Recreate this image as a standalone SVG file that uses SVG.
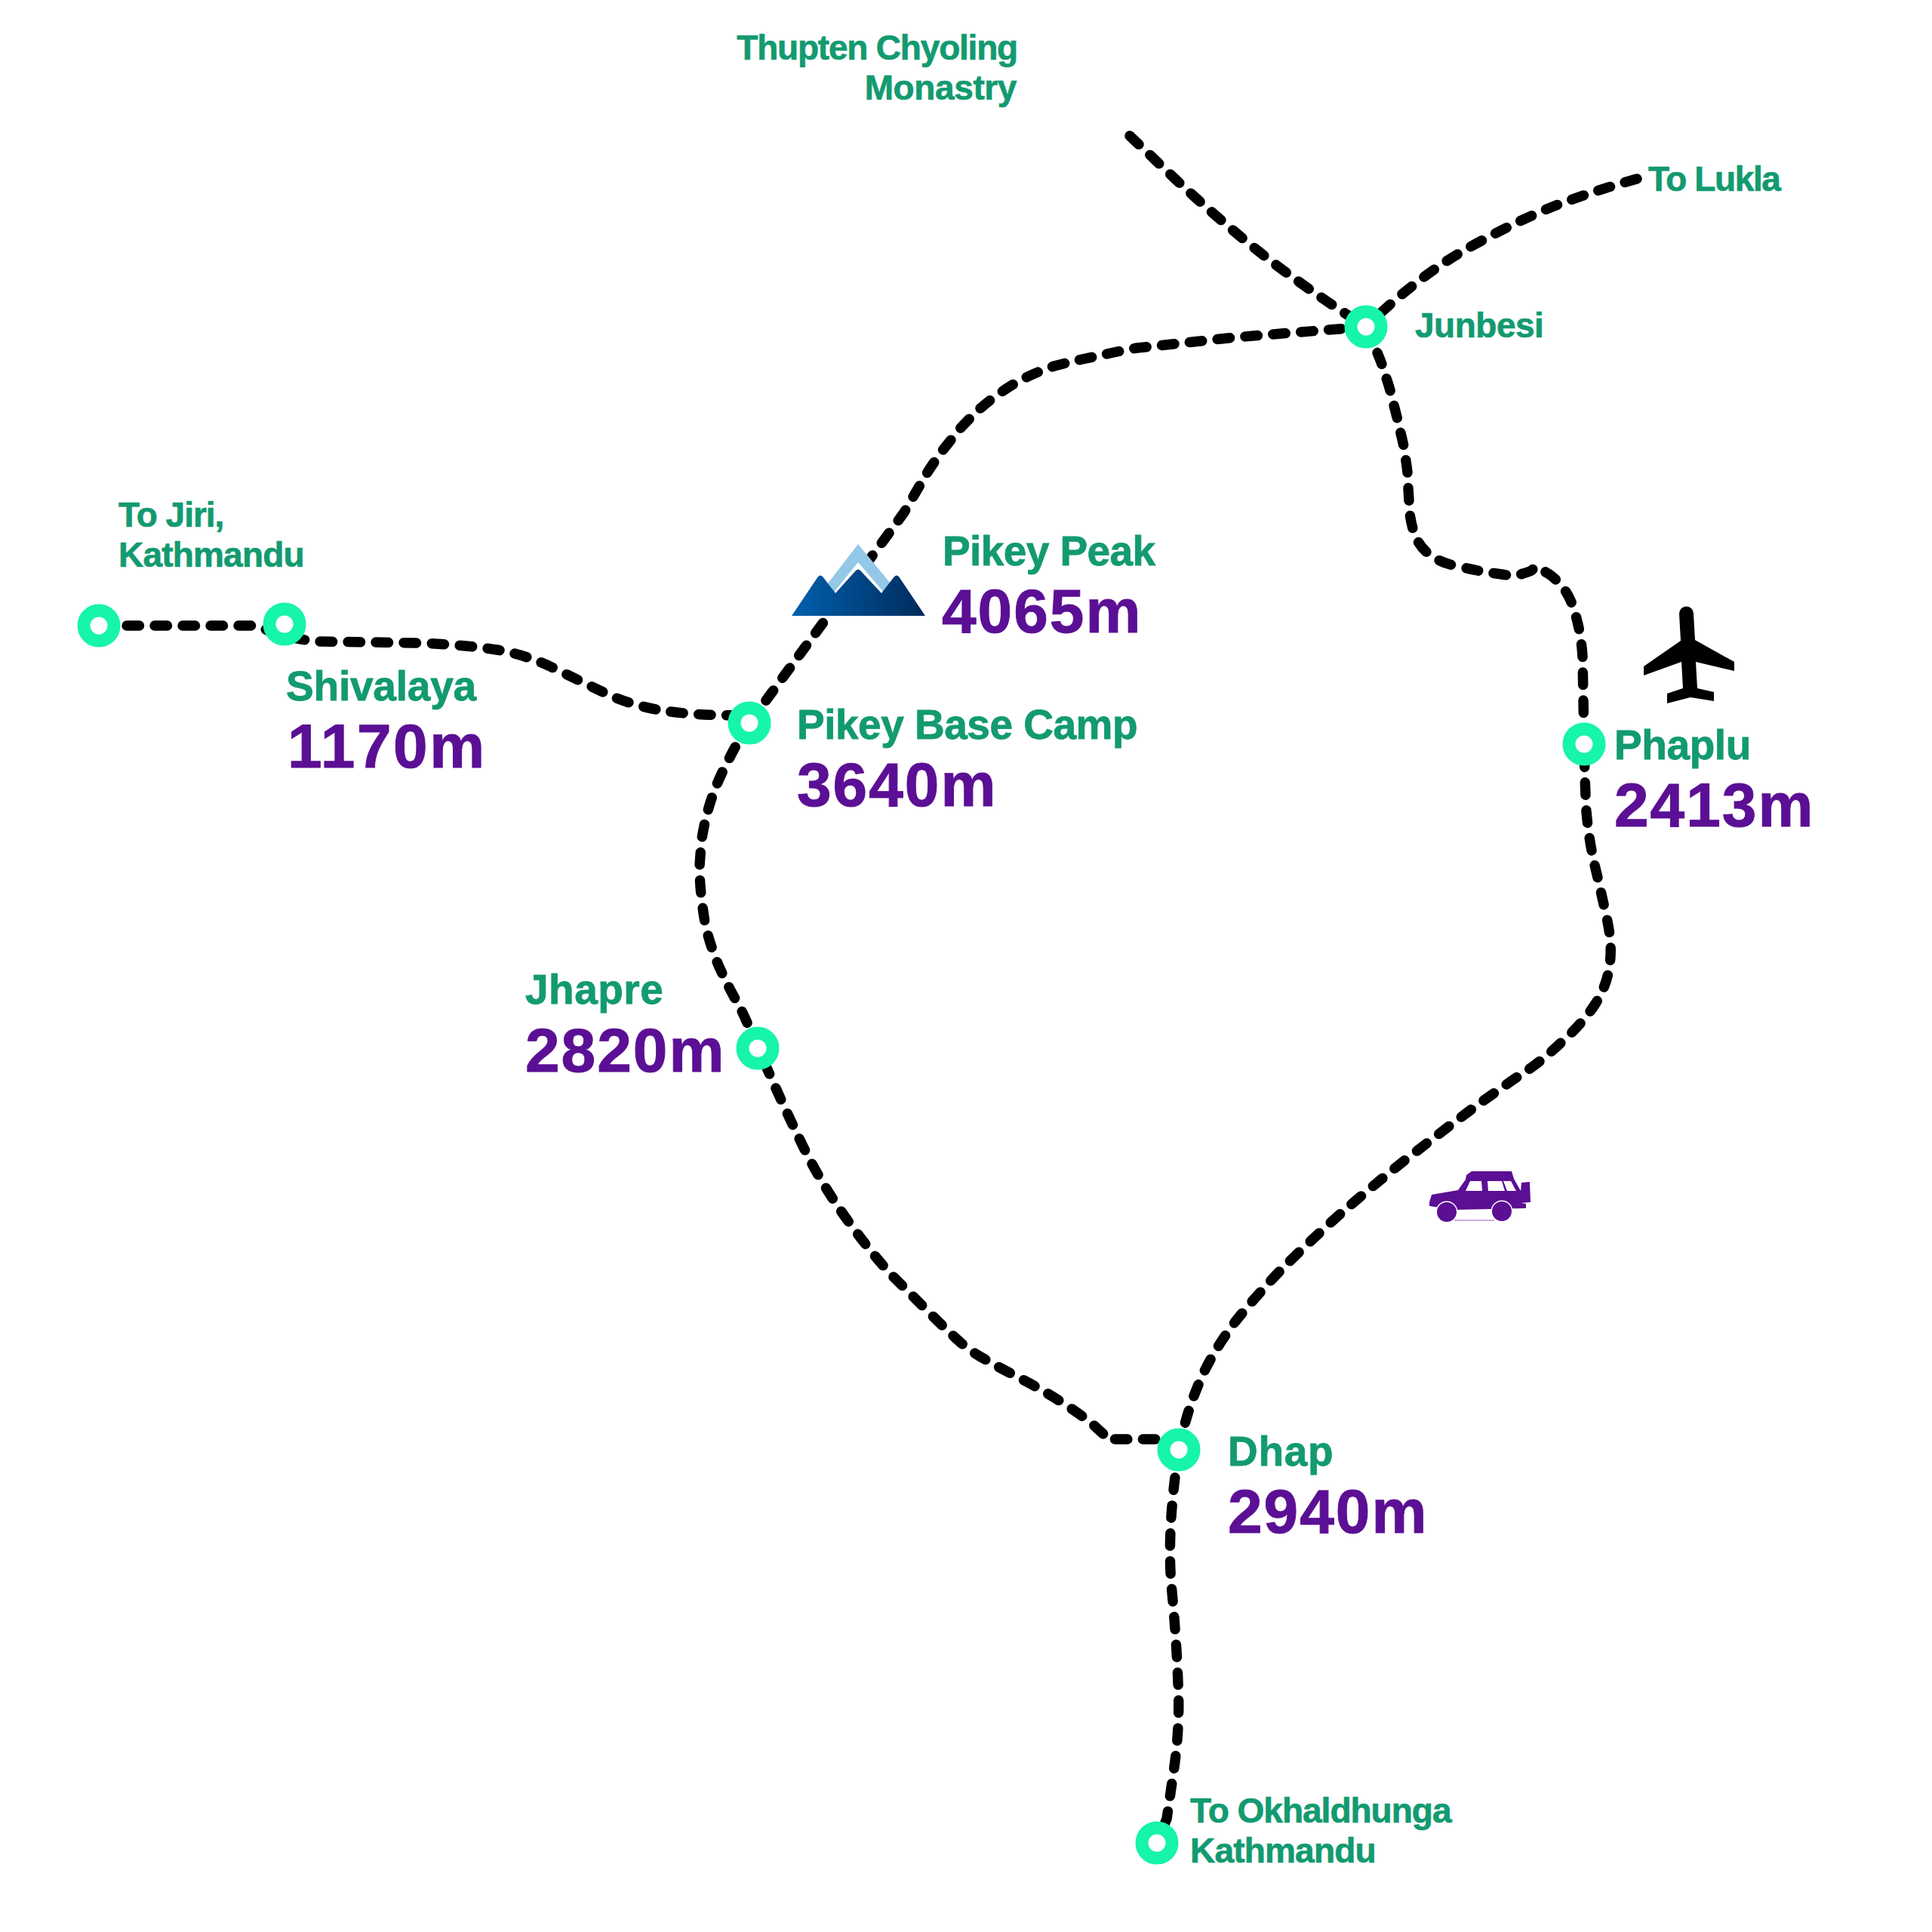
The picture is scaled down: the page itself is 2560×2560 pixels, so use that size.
<svg xmlns="http://www.w3.org/2000/svg" width="2560" height="2560" viewBox="0 0 2560 2560">
<style>
.bg{fill:#fff}
.r{fill:none;stroke:#000;stroke-width:13.5;stroke-linecap:round;stroke-linejoin:round;stroke-dasharray:16.5 20.5}
.n{fill:#fff;stroke:#16f5a9;stroke-width:17}
text{font-family:"Liberation Sans",Arial,sans-serif;font-weight:700}
.g{fill:#139a70;stroke:#139a70;stroke-width:.8;font-size:55px;letter-spacing:-.6px}
.s{fill:#139a70;stroke:#139a70;stroke-width:.7;font-size:46px;letter-spacing:-1px}
.p{fill:#5b0f94;stroke:#5b0f94;stroke-width:1;font-size:82px;letter-spacing:2px}
</style>
<defs>
<linearGradient id="mtn" x1="0" y1="0" x2="1" y2="0"><stop offset="0" stop-color="#0060ad"/><stop offset="1" stop-color="#002b5c"/></linearGradient>
</defs>
<rect class="bg" width="2560" height="2560"/>
<g id="connectors">
<path class="r" d="M131 829L330 829Q345 829 360 838Q385 846 420 850L560 852Q621 855 658 861Q695 867 731 884Q768 902 801 918Q834 934 875 941Q916 948 983 948"/>
<path class="r" d="M993 958L1198 679Q1217 646 1227 629Q1237 613 1248 598Q1260 583 1272 568Q1285 554 1299 541Q1313 529 1329 518Q1345 507 1362 499Q1379 491 1397 485Q1416 480 1434 476Q1453 472 1471 468Q1489 464 1507 461L1636 447L1810 433"/>
<path class="r" d="M993 958L973 992Q957 1022 950 1039Q943 1056 938 1074Q933 1092 930 1111Q928 1130 927 1148Q927 1167 929 1185Q931 1204 934 1222Q938 1241 944 1258Q950 1276 958 1292Q966 1309 975 1325Q985 1342 994 1365Q1004 1388 1024 1433Q1044 1478 1068 1527Q1093 1576 1126 1621Q1159 1666 1183 1691Q1208 1716 1233 1741Q1259 1767 1273 1779Q1288 1792 1305 1801Q1322 1811 1353 1827Q1384 1843 1413 1862Q1443 1882 1453 1892L1464 1902L1465 1907L1562 1907"/>
<path class="r" d="M1562 1921L1569 1891Q1576 1862 1592 1825Q1609 1788 1637 1751Q1666 1715 1698 1682Q1731 1649 1772 1612Q1813 1576 1862 1537Q1911 1499 1947 1472Q1984 1445 2012 1426Q2041 1408 2069 1381Q2098 1355 2114 1330Q2130 1305 2133 1277Q2137 1250 2128 1212Q2120 1175 2112 1142Q2105 1110 2102 1075Q2100 1040 2099 986"/>
<path class="r" d="M1810 433L1821 458Q1832 483 1837 501Q1843 519 1847 537Q1852 556 1856 574Q1861 593 1863 611Q1866 630 1866 647Q1867 664 1868 680Q1870 697 1876 712Q1883 727 1896 736Q1910 746 1926 749Q1943 753 1958 756Q1974 759 1990 761Q2006 764 2018 760Q2030 757 2032 753Q2035 750 2039 752Q2043 755 2053 761Q2063 768 2072 780Q2082 793 2088 816Q2095 840 2097 870L2099 986"/>
<path class="r" d="M1497 180L1556 236Q1617 293 1674 338Q1731 383 1810 433"/>
<path class="r" d="M2169 237Q2115 252 2062 272Q2009 293 1943 330Q1878 367 1810 433"/>
<path class="r" d="M1562 1921Q1546 2025 1552 2099Q1559 2173 1561 2230Q1564 2287 1555 2348L1546 2410L1533 2442"/>
</g>
<g id="icon-mountain">
<polygon fill="#93c8e8" points="1137,721 1097,773 1104,790 1168,790 1180,773"/>
<polygon fill="#fff" points="1137,745 1104,786 1110,792 1137,755 1165,792 1172,786"/>
<path fill="url(#mtn)" d="M1049 816L1084 764Q1087 761 1090 764L1107 786L1134 756Q1137 753 1140 756L1168 786L1185 764Q1188 761 1191 764L1226 816Z"/>
</g>
<g id="icon-plane">
<path d="M2225 813A9.5 9.5 0 0 1 2244 813L2246 848L2298 877L2298 889L2247 877L2249 912L2271 917L2271 929L2240 924L2209 932L2209 919L2230 912L2228 877L2178 895L2178 883L2227 849Z"/>
</g>
<g id="icon-car">
<path fill="#5b0f94" d="M1894 1593L1897 1583L1932 1577L1942 1563L1943 1557L1950 1552L2003 1552L2006 1562L2015 1578L2016 1567L2027 1566L2028 1593L2015 1594L2022 1595L2022 1601L1930 1603L1900 1599L1894 1598Z"/>
<polygon fill="#fff" points="1942,1578 1948,1565 1963,1565 1964,1578"/>
<polygon fill="#fff" points="1972,1578 1971,1565 1990,1565 1994,1578"/>
<polygon fill="#fff" points="1992,1565 2002,1565 2009,1578 1997,1578"/>
<circle cx="1917" cy="1606" r="14.5" fill="#fff"/>
<circle cx="1990" cy="1605" r="14.5" fill="#fff"/>
<circle cx="1917" cy="1606" r="13" fill="#5b0f94"/>
<circle cx="1990" cy="1605" r="13" fill="#5b0f94"/>
<path d="M1927 1617L1980 1617" stroke="#5b0f94" stroke-opacity=".45" stroke-width="1.5"/>
</g>
<g id="node-start"><circle class="n" cx="131" cy="829" r="20"/><text class="s" x="157" y="698">To Jiri,</text><text class="s" x="157" y="751" style="letter-spacing:-.8px">Kathmandu</text></g>
<g id="node-shivalaya"><circle class="n" cx="377" cy="827" r="20"/><text class="g" x="379" y="928" style="letter-spacing:-.2px">Shivalaya</text><text class="p" x="381" y="1017" style="letter-spacing:2.6px">1170m</text></g>
<g id="node-pikey-base"><circle class="n" cx="993" cy="958" r="20"/><text class="g" x="1056" y="979" style="letter-spacing:-.5px">Pikey Base Camp</text><text class="p" x="1056" y="1068">3640m</text></g>
<g id="node-pikey-peak"><text class="g" x="1249" y="749">Pikey Peak</text><text class="p" x="1248" y="838">4065m</text></g>
<g id="node-jhapre"><circle class="n" cx="1004" cy="1389" r="20"/><text class="g" x="696" y="1330" style="letter-spacing:.5px">Jhapre</text><text class="p" x="696" y="1420">2820m</text></g>
<g id="node-dhap"><circle class="n" cx="1562" cy="1921" r="20"/><text class="g" x="1627" y="1942" style="letter-spacing:.7px">Dhap</text><text class="p" x="1627" y="2031">2940m</text></g>
<g id="node-end"><circle class="n" cx="1533" cy="2442" r="20"/><text class="s" x="1577" y="2415">To Okhaldhunga</text><text class="s" x="1577" y="2468" style="letter-spacing:-.8px">Kathmandu</text></g>
<g id="node-phaplu"><circle class="n" cx="2099" cy="986" r="20"/><text class="g" x="2139" y="1006" style="letter-spacing:-.4px">Phaplu</text><text class="p" x="2139" y="1095">2413m</text></g>
<g id="node-junbesi"><circle class="n" cx="1810" cy="433" r="20"/><text class="s" x="1875" y="447" style="letter-spacing:-.5px">Junbesi</text></g>
<g id="label-monastry"><text class="s" x="1348" y="79" text-anchor="end" style="letter-spacing:-1.2px">Thupten Chyoling</text><text class="s" x="1347" y="132" text-anchor="end" style="letter-spacing:-.4px">Monastry</text></g>
<g id="label-lukla"><text class="s" x="2184" y="253" style="letter-spacing:-1.4px">To Lukla</text></g>
</svg>
